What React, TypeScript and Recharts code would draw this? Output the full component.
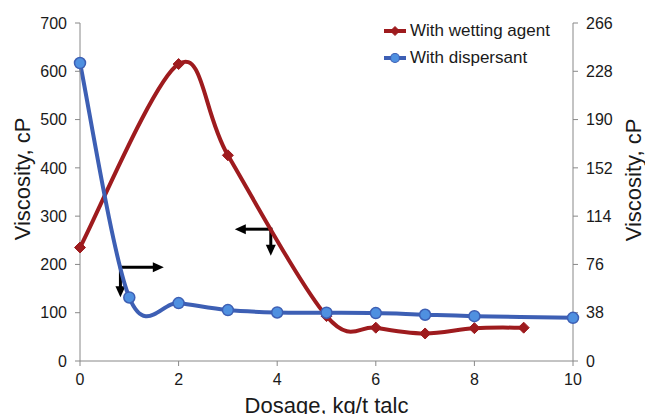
import React from 'react';
import { LineChart, Line, XAxis, YAxis, Legend, ReferenceLine, Label } from 'recharts';

const wettingDosage = [0, 2, 3, 5, 6, 7, 8, 9];
const wettingViscosity = [235, 615, 426, 93, 69, 57, 68, 69];

const dispersantDosage = [0, 1, 2, 3, 4, 5, 6, 7, 8, 10];
const dispersantViscosity = [234.5, 50, 45.6, 40.1, 38.2, 38, 37.7, 36.4, 35.3, 34];

const xTicks = [0, 2, 4, 6, 8, 10];
const leftTicks = [0, 100, 200, 300, 400, 500, 600, 700];
const rightTicks = [0, 38, 76, 114, 152, 190, 228, 266];

// annotation arrows, in data units of the left axis: [fromX, fromY, toX, toY]
const arrows = [
  [0.82, 194, 1.7, 194],
  [0.82, 194, 0.82, 132],
  [3.87, 273, 3.14, 273],
  [3.87, 273, 3.87, 218],
];

const wettingData = wettingDosage.map((d, i) => ({ dosage: d, wetting: wettingViscosity[i] }));
const dispersantData = dispersantDosage.map((d, i) => ({ dosage: d, dispersant: dispersantViscosity[i] }));

const FONT = '"Liberation Sans", Arial, sans-serif';
const RED = '#9e1b1e';
const BLUE = '#3d5fb4';
const BLUE_DOT = '#4f90e0';
const AXIS = '#888888';

// Excel-like smoothed line (cardinal spline, tension 1/6)
const smoothCurve = (context: any) => {
  let pts: number[][] = [];
  return {
    areaStart() {},
    areaEnd() {},
    lineStart() {
      pts = [];
    },
    point(x: number, y: number) {
      pts.push([x, y]);
    },
    lineEnd() {
      if (!pts.length) return;
      context.moveTo(pts[0][0], pts[0][1]);
      for (let i = 0; i < pts.length - 1; i++) {
        const p0 = pts[i - 1] || pts[i];
        const p1 = pts[i];
        const p2 = pts[i + 1];
        const p3 = pts[i + 2] || p2;
        context.bezierCurveTo(
          p1[0] + (p2[0] - p0[0]) / 6,
          p1[1] + (p2[1] - p0[1]) / 6,
          p2[0] - (p3[0] - p1[0]) / 6,
          p2[1] - (p3[1] - p1[1]) / 6,
          p2[0],
          p2[1]
        );
      }
    },
  };
};

const Diamond = ({ cx, cy, size = 5.5 }: any) => (
  <path
    d={`M${cx},${cy - size} L${cx + size},${cy} L${cx},${cy + size} L${cx - size},${cy} Z`}
    fill={RED}
    stroke={RED}
    strokeWidth={1}
  />
);

const Circle = ({ cx, cy }: any) => (
  <circle cx={cx} cy={cy} r={5.5} fill={BLUE_DOT} stroke={BLUE} strokeWidth={1.5} />
);

const ArrowShape = (props: any) => {
  const { x1, y1, x2, y2 } = props;
  const dx = x2 - x1;
  const dy = y2 - y1;
  const len = Math.hypot(dx, dy) || 1;
  const ux = dx / len;
  const uy = dy / len;
  const head = 11;
  const half = 5;
  const bx = x2 - ux * head;
  const by = y2 - uy * head;
  const px = -uy;
  const py = ux;
  return (
    <g>
      <line x1={x1 - ux * 1.5} y1={y1 - uy * 1.5} x2={bx + ux} y2={by + uy} stroke="#000" strokeWidth={3} />
      <polygon
        points={`${x2},${y2} ${bx + px * half},${by + py * half} ${bx - px * half},${by - py * half}`}
        fill="#000"
      />
    </g>
  );
};

const legendItems = [
  { name: 'With wetting agent', color: RED, marker: 'diamond' },
  { name: 'With dispersant', color: BLUE, marker: 'circle' },
];

const renderLegend = () => (
  <div style={{ fontFamily: FONT, fontSize: 17, color: '#1a1a1a', textAlign: 'left' }}>
    {legendItems.map((it) => (
      <div key={it.name} style={{ display: 'flex', alignItems: 'center', height: 27, whiteSpace: 'nowrap' }}>
        <svg width={24} height={14} style={{ marginRight: 3, flex: 'none' }}>
          <line x1={1} y1={7} x2={23} y2={7} stroke={it.color} strokeWidth={4} />
          {it.marker === 'diamond' ? (
            <Diamond cx={12} cy={7} size={4.5} />
          ) : (
            <circle cx={12} cy={7} r={4.5} fill={BLUE_DOT} stroke={BLUE} strokeWidth={1.2} />
          )}
        </svg>
        <span>{it.name}</span>
      </div>
    ))}
  </div>
);

const tickStyle = { fontFamily: FONT, fontSize: 16, fill: '#1a1a1a' };
const titleStyle = { fontFamily: FONT, fontSize: 22, fill: '#1a1a1a' };

export default function App() {
  return (
    <div style={{ position: 'absolute', left: 0, top: 0, background: '#fff' }}>
      <LineChart width={645} height={414} margin={{ top: 23, right: 0, bottom: 0, left: 0 }}>
        <XAxis
          dataKey="dosage"
          type="number"
          domain={[0, 10]}
          ticks={xTicks}
          height={53}
          stroke={AXIS}
          tickSize={5}
          tickMargin={8}
          tick={tickStyle}
          allowDuplicatedCategory={false}
        >
          <Label
            content={({ viewBox }: any) => (
              <text x={viewBox.x + viewBox.width / 2} y={413} textAnchor="middle" style={titleStyle}>
                Dosage, kg/t talc
              </text>
            )}
          />
        </XAxis>
        <YAxis
          yAxisId="left"
          orientation="left"
          domain={[0, 700]}
          ticks={leftTicks}
          width={80}
          stroke={AXIS}
          tickSize={5}
          tickMargin={8}
          tick={tickStyle}
        >
          <Label
            content={() => (
              <text x={0} y={0} transform="translate(30,179) rotate(-90)" textAnchor="middle" style={titleStyle}>
                Viscosity, cP
              </text>
            )}
          />
        </YAxis>
        <YAxis
          yAxisId="right"
          orientation="right"
          domain={[0, 266]}
          ticks={rightTicks}
          width={72}
          stroke={AXIS}
          tickSize={5}
          tickMargin={8}
          tick={tickStyle}
        >
          <Label
            content={() => (
              <text x={0} y={0} transform="translate(641,180) rotate(-90)" textAnchor="middle" style={titleStyle}>
                Viscosity, cP
              </text>
            )}
          />
        </YAxis>
        {arrows.map((a, i) => (
          <ReferenceLine
            key={i}
            yAxisId="left"
            segment={[
              { x: a[0], y: a[1] },
              { x: a[2], y: a[3] },
            ]}
            ifOverflow="visible"
            shape={ArrowShape}
          />
        ))}
        <Line
          yAxisId="left"
          data={wettingData}
          dataKey="wetting"
          name="With wetting agent"
          type={smoothCurve as any}
          stroke={RED}
          strokeWidth={4}
          dot={(p: any) => <Diamond key={`w${p.index}`} cx={p.cx} cy={p.cy} />}
          activeDot={false}
          isAnimationActive={false}
        />
        <Line
          yAxisId="right"
          data={dispersantData}
          dataKey="dispersant"
          name="With dispersant"
          type={smoothCurve as any}
          stroke={BLUE}
          strokeWidth={4}
          dot={(p: any) => <Circle key={`d${p.index}`} cx={p.cx} cy={p.cy} />}
          activeDot={false}
          isAnimationActive={false}
        />
        <Legend
          verticalAlign="middle"
          align="center"
          layout="vertical"
          content={renderLegend}
          wrapperStyle={{ position: 'absolute', left: 383, top: 17, width: 170, overflow: 'hidden' }}
        />
      </LineChart>
    </div>
  );
}
